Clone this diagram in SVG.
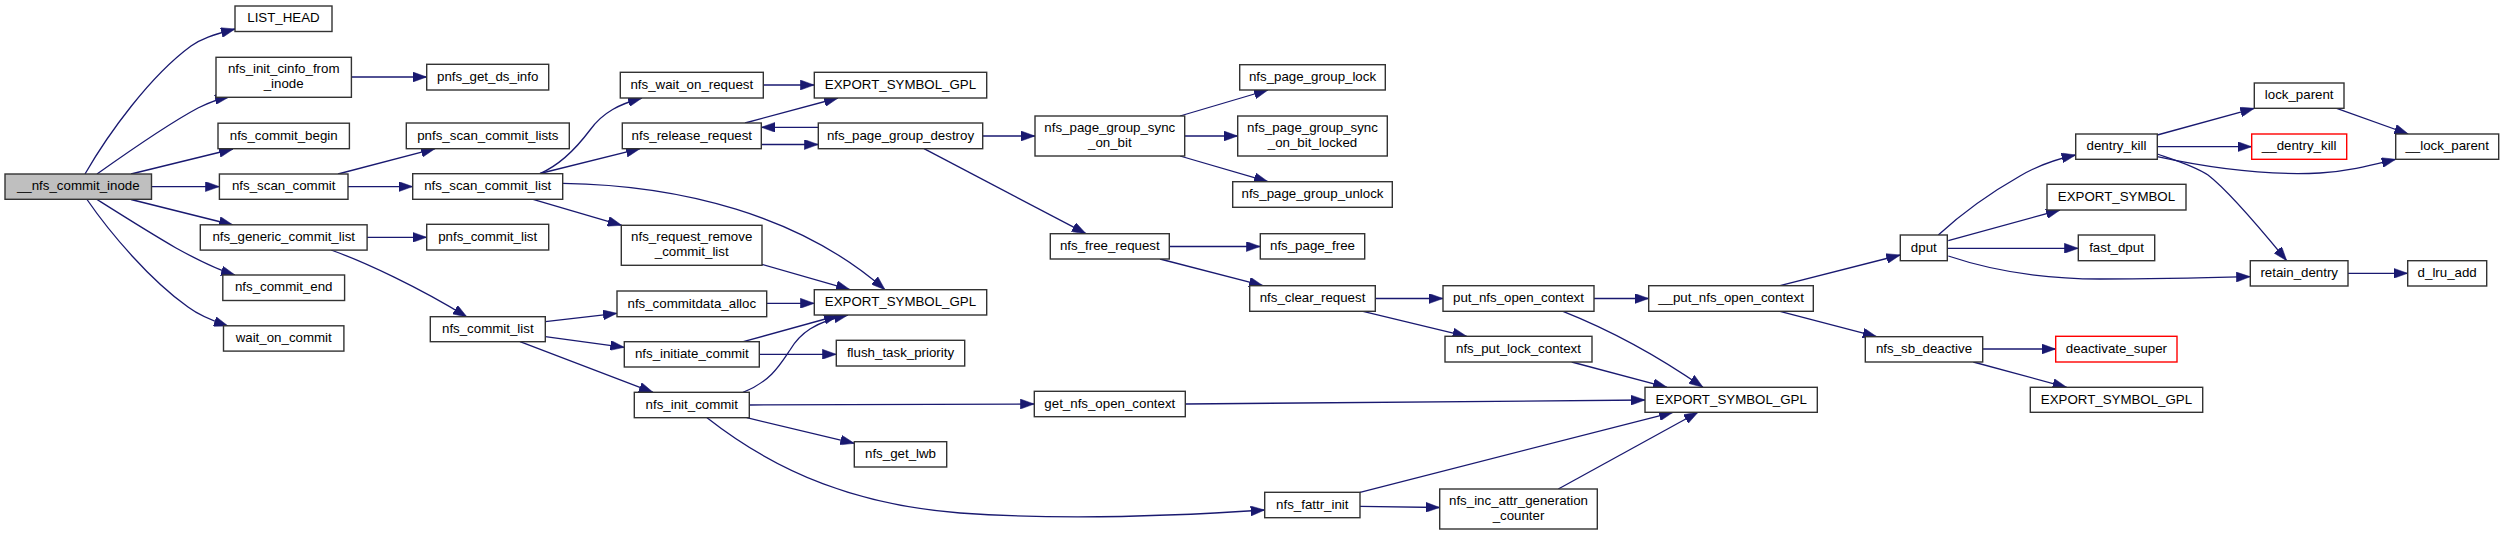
<svg xmlns="http://www.w3.org/2000/svg" width="2504" height="535" viewBox="0 0 2504 535">
<defs>
<style>
.n rect{fill:#ffffff;stroke:#333333;stroke-width:1.4}
.n.root rect{fill:#bfbfbf}
.n.red rect{stroke:#ff0000}
.n text{font-family:"Liberation Sans",Arial,sans-serif;font-size:13.3px;fill:#000000;text-anchor:middle}
#edges path{fill:none;stroke:#191970;stroke-width:1.3;marker-end:url(#arr)}
</style>
<marker id="arr" viewBox="0 0 14 10" refX="14" refY="5" markerWidth="14" markerHeight="10" markerUnits="userSpaceOnUse" orient="auto">
<path d="M0,0 L14,5 L0,10 z" fill="#191970" stroke="#191970" stroke-width="0.5"/>
</marker>
</defs>
<rect width="2504" height="535" fill="#ffffff"/>
<g id="edges">
<path d="M85,174 C108,134 150,76 191,46 C201,39 212,35 235,29"/>
<path d="M97,174 C128,152 168,124 198,108 C208,103 218,99 229,97"/>
<path d="M131,174 L233,149"/>
<path d="M151.5,186.6 L219.4,186.6"/>
<path d="M131,199.5 L233,225"/>
<path d="M97,199.5 C120,214 150,233 176,248 C196,259 215,269 235,275"/>
<path d="M87,199.5 C110,233 150,280 188,307 C200,316 213,321 228,326"/>
<path d="M351.4,77 L426.7,77"/>
<path d="M338,174 L435,148.7"/>
<path d="M348,186.6 L412.7,186.6"/>
<path d="M367,237.3 L426.7,237.3"/>
<path d="M331,250 C365,262 420,288 467,317"/>
<path d="M540,173.5 C560,165 575,150 590,130 C603,112 620,104 642,98"/>
<path d="M540,173.5 L640,148.7"/>
<path d="M562.7,183.3 C680,185 800,215 885,289.7"/>
<path d="M533,199.3 L621.7,225.3"/>
<path d="M763.3,85 L814.3,85"/>
<path d="M745,123 L838,98"/>
<path d="M761.3,144.5 L818.3,144.5"/>
<path d="M818.3,127.3 L761.3,127.3"/>
<path d="M761.7,264.3 L850,289.7"/>
<path d="M545.3,321.7 L617,313.3"/>
<path d="M545.3,336.7 L624.3,347.3"/>
<path d="M520,341.7 C560,357 610,376 653,392.3"/>
<path d="M766.7,303.3 L814.3,303.3"/>
<path d="M743.3,341.7 L838,315.5"/>
<path d="M759.3,354.3 L836.3,354.3"/>
<path d="M743,392.3 C770,382 780,365 790,350 C800,333 815,322 848,315"/>
<path d="M749.3,405 L1034.3,404"/>
<path d="M746.7,417.7 L854.3,443.3"/>
<path d="M707,417.7 C780,475 860,505 960,513 C1060,520 1160,517 1264.7,510"/>
<path d="M982.7,136 L1035,136"/>
<path d="M924,148.7 L1086,233.7"/>
<path d="M1180,116 L1268,90"/>
<path d="M1184.7,136 L1237.7,136"/>
<path d="M1180,156 L1268,181.7"/>
<path d="M1169.3,246.5 L1260.3,246.5"/>
<path d="M1160,259 L1263,285.7"/>
<path d="M1375.3,298.5 L1443,298.5"/>
<path d="M1363,311.3 L1466.7,336.3"/>
<path d="M1594,298.5 L1648.7,298.5"/>
<path d="M1563,311.3 C1600,326 1645,347 1703,387.3"/>
<path d="M1571.7,362 L1667,387.3"/>
<path d="M1185.3,404 L1645,400"/>
<path d="M1360,492.3 L1673,412.3"/>
<path d="M1360,506.3 L1439.7,507.5"/>
<path d="M1558.3,489 L1698,412.3"/>
<path d="M1780,285.7 L1900.3,255"/>
<path d="M1780,311.3 L1876.7,336.7"/>
<path d="M1938.3,235 C1960,215 1990,193 2020,176 C2037,166 2052,160 2075.7,155"/>
<path d="M1948.3,240.7 L2060,210"/>
<path d="M1947.3,248.3 L2078.3,248.3"/>
<path d="M1948.3,256 C1990,270 2040,279 2100,279 C2150,279 2200,278 2250.3,276.7"/>
<path d="M1982.7,349 L2055.7,349"/>
<path d="M1973.3,362 L2066.7,387.3"/>
<path d="M2157.3,135 L2254.3,108.3"/>
<path d="M2157.3,146.7 L2251.7,146.7"/>
<path d="M2157.3,156.7 C2200,166 2260,176 2320,173 C2350,171 2372,165 2395.7,159.3"/>
<path d="M2157.3,154 C2175,160 2195,166 2208,175 C2225,188 2255,222 2286.7,260.7"/>
<path d="M2336.7,108.3 L2408.3,134"/>
<path d="M2348,273.3 L2407.7,273.3"/>
</g>
<g id="n1" class="n root"><rect x="5" y="174" width="146.5" height="25.3"/><text x="78.3" y="190.4">__nfs_commit_inode</text></g>
<g id="n2" class="n"><rect x="235" y="6" width="97" height="25.5"/><text x="283.5" y="22.4">LIST_HEAD</text></g>
<g id="n3" class="n"><rect x="216" y="57.3" width="135.4" height="40"/><text x="283.7" y="73.4">nfs_init_cinfo_from</text><text x="283.7" y="88">_inode</text></g>
<g id="n4" class="n"><rect x="218" y="123.2" width="131.4" height="25.5"/><text x="283.7" y="139.6">nfs_commit_begin</text></g>
<g id="n5" class="n"><rect x="219.4" y="174" width="128.6" height="25.3"/><text x="283.7" y="190.4">nfs_scan_commit</text></g>
<g id="n6" class="n"><rect x="200.3" y="224.8" width="166.8" height="25.3"/><text x="283.7" y="241.2">nfs_generic_commit_list</text></g>
<g id="n7" class="n"><rect x="222.8" y="275" width="121.8" height="25.5"/><text x="283.7" y="291.4">nfs_commit_end</text></g>
<g id="n8" class="n"><rect x="223.5" y="325.8" width="120.4" height="25.3"/><text x="283.7" y="342.2">wait_on_commit</text></g>
<g id="n9" class="n"><rect x="426.7" y="64.3" width="122" height="25.7"/><text x="487.7" y="80.8">pnfs_get_ds_info</text></g>
<g id="n10" class="n"><rect x="406.3" y="123" width="163" height="25.7"/><text x="487.8" y="139.5">pnfs_scan_commit_lists</text></g>
<g id="n11" class="n"><rect x="412.7" y="173.7" width="150" height="25.6"/><text x="487.7" y="190.2">nfs_scan_commit_list</text></g>
<g id="n12" class="n"><rect x="426.7" y="224.3" width="122" height="25.7"/><text x="487.7" y="240.8">pnfs_commit_list</text></g>
<g id="n13" class="n"><rect x="430.3" y="316.7" width="115" height="25"/><text x="487.8" y="333">nfs_commit_list</text></g>
<g id="n14" class="n"><rect x="620.3" y="72.3" width="143" height="25.7"/><text x="691.8" y="88.8">nfs_wait_on_request</text></g>
<g id="n15" class="n"><rect x="622.3" y="123" width="139" height="25.7"/><text x="691.8" y="139.5">nfs_release_request</text></g>
<g id="n16" class="n"><rect x="621.3" y="225.3" width="140.7" height="40"/><text x="691.7" y="241.3">nfs_request_remove</text><text x="691.7" y="256">_commit_list</text></g>
<g id="n17" class="n"><rect x="617" y="291" width="149.7" height="25.7"/><text x="691.8" y="307.5">nfs_commitdata_alloc</text></g>
<g id="n18" class="n"><rect x="624.3" y="341.7" width="135" height="25.3"/><text x="691.8" y="358.1">nfs_initiate_commit</text></g>
<g id="n19" class="n"><rect x="634.3" y="392.3" width="115" height="25.4"/><text x="691.8" y="408.7">nfs_init_commit</text></g>
<g id="n20" class="n"><rect x="814.3" y="72.3" width="172.4" height="25.7"/><text x="900.5" y="88.8">EXPORT_SYMBOL_GPL</text></g>
<g id="n21" class="n"><rect x="818.3" y="123" width="164.4" height="25.7"/><text x="900.5" y="139.5">nfs_page_group_destroy</text></g>
<g id="n22" class="n"><rect x="814.3" y="289.7" width="172.4" height="25.3"/><text x="900.5" y="306.1">EXPORT_SYMBOL_GPL</text></g>
<g id="n23" class="n"><rect x="836.3" y="340.3" width="128.4" height="25.7"/><text x="900.5" y="356.8">flush_task_priority</text></g>
<g id="n24" class="n"><rect x="854.3" y="441.7" width="92.4" height="25.3"/><text x="900.5" y="458.1">nfs_get_lwb</text></g>
<g id="n25" class="n"><rect x="1035" y="116" width="149.7" height="40"/><text x="1109.8" y="132">nfs_page_group_sync</text><text x="1109.8" y="146.7">_on_bit</text></g>
<g id="n26" class="n"><rect x="1050.3" y="233.7" width="119" height="25.3"/><text x="1109.8" y="250.1">nfs_free_request</text></g>
<g id="n27" class="n"><rect x="1034.3" y="391.3" width="151" height="25.4"/><text x="1109.8" y="407.7">get_nfs_open_context</text></g>
<g id="n28" class="n"><rect x="1239.7" y="64.7" width="145.6" height="25.3"/><text x="1312.5" y="81.1">nfs_page_group_lock</text></g>
<g id="n29" class="n"><rect x="1237.7" y="116" width="149.6" height="40"/><text x="1312.5" y="132">nfs_page_group_sync</text><text x="1312.5" y="146.7">_on_bit_locked</text></g>
<g id="n30" class="n"><rect x="1232.7" y="181.7" width="159.6" height="25.6"/><text x="1312.5" y="198.1">nfs_page_group_unlock</text></g>
<g id="n31" class="n"><rect x="1260.3" y="233.7" width="104.4" height="25.3"/><text x="1312.5" y="250.1">nfs_page_free</text></g>
<g id="n32" class="n"><rect x="1249.7" y="285.7" width="125.6" height="25.6"/><text x="1312.5" y="302.1">nfs_clear_request</text></g>
<g id="n33" class="n"><rect x="1264.7" y="492.3" width="95.3" height="25.4"/><text x="1312.3" y="508.7">nfs_fattr_init</text></g>
<g id="n34" class="n"><rect x="1443" y="285.7" width="151" height="25.6"/><text x="1518.5" y="302.1">put_nfs_open_context</text></g>
<g id="n35" class="n"><rect x="1445" y="336.3" width="147" height="25.7"/><text x="1518.5" y="352.8">nfs_put_lock_context</text></g>
<g id="n36" class="n"><rect x="1439.7" y="489" width="157.6" height="40"/><text x="1518.5" y="505">nfs_inc_attr_generation</text><text x="1518.5" y="519.7">_counter</text></g>
<g id="n37" class="n"><rect x="1648.7" y="285.7" width="164.6" height="25.6"/><text x="1731" y="302.1">__put_nfs_open_context</text></g>
<g id="n38" class="n"><rect x="1645" y="387.3" width="172.3" height="25"/><text x="1731.2" y="403.6">EXPORT_SYMBOL_GPL</text></g>
<g id="n39" class="n"><rect x="1900.3" y="235" width="47" height="25.7"/><text x="1923.8" y="251.5">dput</text></g>
<g id="n40" class="n"><rect x="1865.3" y="336.7" width="117.4" height="25.3"/><text x="1924" y="353.1">nfs_sb_deactive</text></g>
<g id="n41" class="n"><rect x="2075.7" y="134" width="81.6" height="25.3"/><text x="2116.5" y="150.4">dentry_kill</text></g>
<g id="n42" class="n"><rect x="2047" y="184.3" width="139" height="25.7"/><text x="2116.5" y="200.8">EXPORT_SYMBOL</text></g>
<g id="n43" class="n"><rect x="2078.3" y="235" width="76.4" height="25.7"/><text x="2116.5" y="251.5">fast_dput</text></g>
<g id="n44" class="n"><rect x="2250.3" y="260.7" width="97.7" height="25.3"/><text x="2299.2" y="277.1">retain_dentry</text></g>
<g id="n45" class="n red"><rect x="2055.7" y="336.3" width="121.3" height="25.7"/><text x="2116.4" y="352.8">deactivate_super</text></g>
<g id="n46" class="n"><rect x="2030.3" y="387.3" width="172.4" height="25"/><text x="2116.5" y="403.6">EXPORT_SYMBOL_GPL</text></g>
<g id="n47" class="n"><rect x="2254.3" y="83" width="89.7" height="25.3"/><text x="2299.2" y="99.4">lock_parent</text></g>
<g id="n48" class="n red"><rect x="2251.7" y="134" width="95" height="25.3"/><text x="2299.2" y="150.4">__dentry_kill</text></g>
<g id="n49" class="n"><rect x="2395.7" y="134" width="103" height="25.3"/><text x="2447.2" y="150.4">__lock_parent</text></g>
<g id="n50" class="n"><rect x="2407.7" y="260.7" width="79" height="25.3"/><text x="2447.2" y="277.1">d_lru_add</text></g>
</svg>
